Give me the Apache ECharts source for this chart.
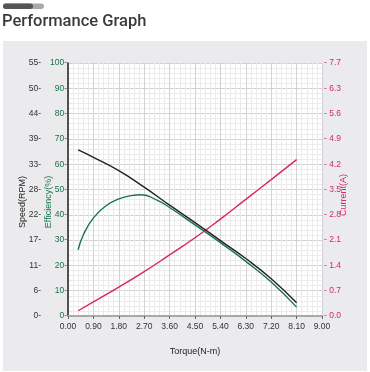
<!DOCTYPE html>
<html>
<head>
<meta charset="utf-8">
<script src="https://cdn.jsdelivr.net/npm/echarts@6/dist/echarts.min.js"></script>
<style>
html,body{margin:0;padding:0;background:#fff;width:370px;height:372px;overflow:hidden;}
#panel{position:absolute;left:3px;top:41px;width:364px;height:330px;background:#ebebed;}
#chart{position:absolute;left:0;top:0;width:370px;height:372px;}
</style>
</head>
<body>
<div id="panel"></div>
<div id="chart"></div>
<script>
// Data
const speedTorque = [0.36, 0.9, 1.8, 2.7, 3.6, 4.5, 5.4, 6.3, 7.2, 8.1];
const speedRPM    = [36.1, 34.5, 31.6, 28.0, 24.1, 20.3, 16.4, 12.5, 8.1, 2.9];

const effTorque   = [0.36, 0.54, 0.9, 1.35, 1.8, 2.25, 2.6, 3.15, 3.6, 4.5, 5.4, 6.3, 7.2, 8.1];
const efficiency  = [26.1, 32.0, 38.8, 43.6, 46.3, 47.6, 47.9, 45.8, 42.9, 36.0, 29.0, 21.6, 13.4, 3.5];

const curTorque   = [0.36, 0.9, 1.8, 2.7, 3.6, 4.5, 5.4, 6.3, 7.2, 8.1];
const currentA    = [0.16, 0.43, 0.88, 1.35, 1.86, 2.38, 2.95, 3.55, 4.15, 4.76];

const xTickLabels  = ['0.00','0.90','1.80','2.70','3.60','4.50','5.40','6.30','7.20','8.10','9.00'];
const speedTicks   = ['0','6','11','17','22','28','33','39','44','50','55'];
const effTicks     = ['0','10','20','30','40','50','60','70','80','90','100'];
const currentTicks = ['0.0','0.7','1.4','2.1','2.8','3.5','4.2','4.9','5.6','6.3','7.7'];

const pair = (xs, ys) => xs.map((x, i) => [x, ys[i]]);

const GREEN = '#17744a', PINK = '#d9246c', DARK = '#222';
const FONT = 'Liberation Sans';

const chart = echarts.init(document.getElementById('chart'), null, {renderer: 'canvas'});
chart.setOption({
  backgroundColor: 'transparent',
  animation: false,
  title: {
    text: 'Performance Graph', left: 2, top: 13, padding: 0,
    textStyle: {fontFamily: 'Roboto', fontWeight: 500, fontSize: 16.5, color: '#3a3a3a'}
  },
  graphic: [
    {type: 'rect', shape: {x: 3, y: 3.5, width: 41, height: 5.5, r: 2.75}, style: {fill: '#a9a9a9'}},
    {type: 'rect', shape: {x: 3, y: 3.5, width: 30, height: 5.5, r: 2.75}, style: {fill: '#555'}},
    {type: 'text', x: 23, y: 202, rotation: Math.PI / 2,
      style: {text: 'Speed(RPM)', fill: '#222', font: '9px ' + FONT, align: 'center', verticalAlign: 'middle'}},
    {type: 'text', x: 48.5, y: 202, rotation: Math.PI / 2,
      style: {text: 'Efficiency(%)', fill: GREEN, font: '9px ' + FONT, align: 'center', verticalAlign: 'middle'}},
    {type: 'text', x: 343.5, y: 195, rotation: Math.PI / 2,
      style: {text: 'Current(A)', fill: PINK, font: '9px ' + FONT, align: 'center', verticalAlign: 'middle'}}
  ],
  grid: {left: 68, right: 48, top: 63, bottom: 56, show: true, backgroundColor: '#fff', borderWidth: 0},
  xAxis: {
    type: 'value', min: 0, max: 9, interval: 0.9,
    name: 'Torque(N-m)', nameLocation: 'middle', nameGap: 31,
    nameTextStyle: {fontFamily: FONT, fontSize: 9, color: '#222'},
    axisLine: {show: true, lineStyle: {color: '#a8a8a8', width: 2}},
    axisTick: {show: true, length: 3, inside: false, lineStyle: {color: '#666'}},
    axisLabel: {formatter: (v, i) => xTickLabels[i], fontFamily: FONT, fontSize: 8.5, color: '#333', margin: 6},
    splitLine: {show: true, lineStyle: {color: '#d2d2d2', width: 1}},
    minorTick: {show: false, splitNumber: 5},
    minorSplitLine: {show: true, lineStyle: {color: '#ebebeb', width: 1}}
  },
  yAxis: [
    {
      type: 'value', min: 0, max: 100, interval: 10, position: 'left',
      axisLine: {show: true, onZero: false, lineStyle: {color: '#222', width: 1.5}},
      axisTick: {show: false},
      axisLabel: {formatter: (v, i) => effTicks[i] + '-', fontFamily: FONT, fontSize: 8.5, color: GREEN, margin: 1},
      splitLine: {show: true, lineStyle: {color: '#d2d2d2', width: 1}},
      minorTick: {show: false, splitNumber: 5},
      minorSplitLine: {show: true, lineStyle: {color: '#ebebeb', width: 1}}
    },
    {
      type: 'value', min: 0, max: 55, interval: 5.5, position: 'left', offset: 27,
      axisLine: {show: false}, axisTick: {show: false}, splitLine: {show: false},
      axisLabel: {formatter: (v, i) => speedTicks[i] + '-', fontFamily: FONT, fontSize: 8.5, color: '#333', margin: 0}
    },
    {
      type: 'value', min: 0, max: 7.7, interval: 0.77, position: 'right',
      axisLine: {show: false}, axisTick: {show: false}, splitLine: {show: false},
      axisLabel: {formatter: (v, i) => '- ' + currentTicks[i], fontFamily: FONT, fontSize: 8.5, color: PINK, margin: 2}
    }
  ],
  series: [
    {type: 'line', yAxisIndex: 1, data: pair(speedTorque, speedRPM), smooth: 0.5, symbol: 'none',
      lineStyle: {color: DARK, width: 1.4}, z: 3},
    {type: 'line', yAxisIndex: 0, data: pair(effTorque, efficiency), smooth: 0.5, symbol: 'none',
      lineStyle: {color: GREEN, width: 1.4}, z: 2},
    {type: 'line', yAxisIndex: 2, data: pair(curTorque, currentA), smooth: 0.5, symbol: 'none',
      lineStyle: {color: PINK, width: 1.4}, z: 2}
  ]
});
</script>
</body>
</html>
